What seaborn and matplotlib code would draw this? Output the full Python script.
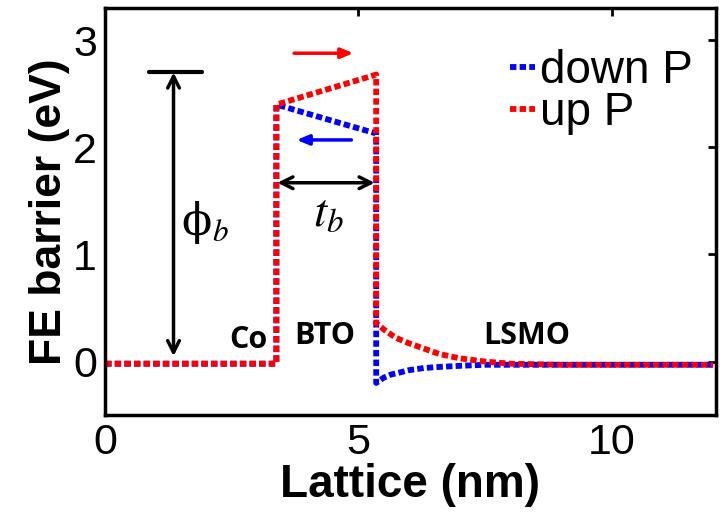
import matplotlib
matplotlib.use("Agg")
import matplotlib.pyplot as plt
import seaborn as sns
import pandas as pd

# ---- data ----
x_pts = [0, 3.38, 3.38, 5.35, 5.35, 5.5, 5.65, 5.75, 6.0, 6.3, 6.6, 7.0, 7.5, 8.0, 9.0, 12.0]
down_p = [-0.02, -0.02, 2.40, 2.13, -0.20, -0.15, -0.12, -0.11, -0.08, -0.06, -0.05, -0.04, -0.03, -0.03, -0.03, -0.03]
up_p = [-0.02, -0.02, 2.40, 2.68, 0.36, 0.30, 0.25, 0.22, 0.17, 0.12, 0.07, 0.03, 0.00, -0.02, -0.03, -0.03]
series_names = ["down P", "up P"]
series_colors = ["#0000ff", "#ff0000"]
region_labels = ["Co", "BTO", "LSMO"]
region_x = [2.82, 4.33, 8.32]
region_y = [0.2, 0.24, 0.24]
x_ticks = [0, 5, 10]
y_ticks = [0, 1, 2, 3]

rows = []
for name, ys in zip(series_names, [down_p, up_p]):
    for i, (xv, yv) in enumerate(zip(x_pts, ys)):
        rows.append({"Lattice": xv, "E": yv, "Series": name, "order": i})
df = pd.DataFrame(rows)

sns.set_theme(style="white")
plt.rcParams["font.family"] = ["Liberation Sans", "DejaVu Sans"]
plt.rcParams["mathtext.fontset"] = "stix"
plt.rcParams["text.color"] = "black"
plt.rcParams["axes.labelcolor"] = "black"
plt.rcParams["xtick.color"] = "black"
plt.rcParams["ytick.color"] = "black"

fig = plt.figure(figsize=(7.2, 5.15), dpi=100)
ax = fig.add_axes([0.146, 0.194, 0.848, 0.790])

sns.lineplot(data=df, x="Lattice", y="E", hue="Series", hue_order=series_names,
             palette=series_colors, sort=False, estimator=None, ax=ax,
             linewidth=4.2, legend=False)
for ln in ax.get_lines():
    ln.set_linestyle((0, (1.1, 0.55)))

ax.set_xlim(0, 12.05)
ax.set_ylim(-0.5, 3.3)
ax.set_xticks(x_ticks)
ax.set_yticks(y_ticks)
ax.set_xticklabels([str(t) for t in x_ticks])
ax.set_yticklabels([str(t) for t in y_ticks])
ax.tick_params(direction="in", length=6, width=2, top=True, right=True,
               labelsize=31, pad=6, colors="black", labelcolor="black")
for s in ax.spines.values():
    s.set_linewidth(2.5)
    s.set_color("black")
ax.set_xlabel("Lattice (nm)", fontsize=33, fontweight="bold", labelpad=0, color="black")
ax.set_ylabel("FE barrier (eV)", fontsize=32, fontweight="bold", labelpad=2, color="black")

# legend
from matplotlib.lines import Line2D
handles = [Line2D([0], [0], color=c, lw=4.2, linestyle=(0, (1.1, 0.55))) for c in series_colors]
leg = ax.legend(handles, series_names, loc="upper right", frameon=False,
                fontsize=33, handlelength=0.55, handletextpad=0.1,
                labelspacing=-0.05, borderaxespad=0.1, bbox_to_anchor=(1.0, 0.955),
                labelcolor="black")

# region labels
for lab, xv, yv in zip(region_labels, region_x, region_y):
    ax.text(xv, yv, lab, fontsize=22, fontweight="bold", family=["Open Sans", "DejaVu Sans"],
            ha="center", va="center", color="black")

# phi_b arrow
ax.annotate("", xy=(1.35, 2.70), xytext=(1.35, 0.05),
            arrowprops=dict(arrowstyle="<->,head_length=0.7,head_width=0.35", lw=2.5, color="black",
                            shrinkA=0, shrinkB=0))
ax.plot([0.86, 1.91], [2.70, 2.70], color="black", lw=3)
ax.text(1.5, 1.3, "ϕ$_{b}$", fontsize=32, family=["DejaVu Serif"], ha="left", va="center", color="black")

# t_b arrow
ax.annotate("", xy=(3.4, 1.67), xytext=(5.32, 1.67),
            arrowprops=dict(arrowstyle="<->,head_length=0.7,head_width=0.35", lw=2.5, color="black",
                            shrinkA=0, shrinkB=0))
ax.text(4.4, 1.38, "$t_b$", fontsize=34, ha="center", va="center", color="black")

# polarization arrows
ax.annotate("", xy=(4.9, 2.88), xytext=(3.73, 2.88),
            arrowprops=dict(arrowstyle="-|>,head_length=0.6,head_width=0.25", lw=2.5, color="#ff0000",
                            shrinkA=0, shrinkB=0))
ax.annotate("", xy=(3.78, 2.07), xytext=(4.86, 2.07),
            arrowprops=dict(arrowstyle="-|>,head_length=0.6,head_width=0.25", lw=2.5, color="#0000ff",
                            shrinkA=0, shrinkB=0))

fig.savefig("out.png", dpi=100)
